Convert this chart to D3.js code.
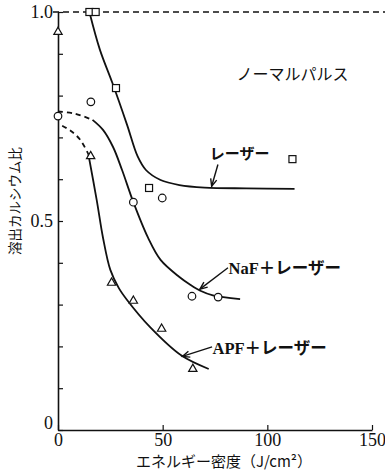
<!DOCTYPE html>
<html>
<head>
<meta charset="utf-8">
<script src="https://cdn.jsdelivr.net/npm/d3@7"></script>
<style>
  body { margin: 0; background: #fff; }
  text { fill: #111; }
</style>
</head>
<body>
<div id="chart"></div>
<script>
// points (energy J/cm2, ratio)
const laserPts = [[15, 1.0], [18, 1.0], [27.7, 0.818], [43.5, 0.579], [112, 0.648]];
const nafPts = [[0, 0.751], [15.7, 0.785], [36, 0.545], [49.8, 0.555], [64, 0.32], [76.5, 0.318]];
const apfPts = [[0, 0.952], [15.6, 0.655], [25.6, 0.352], [36, 0.309], [49.5, 0.242], [64.4, 0.146]];

// fitted curves
const laserCurve = [[15, 1.0], [20, 0.91], [26, 0.83], [33, 0.73], [38, 0.655], [42, 0.622], [49, 0.598], [58, 0.586], [70, 0.58], [90, 0.578], [113, 0.577]];
const nafDash = [[0, 0.762], [8, 0.757], [16.5, 0.742]];
const nafCurve = [[16.5, 0.742], [21.5, 0.718], [26.3, 0.677], [30.6, 0.622], [36, 0.545], [43, 0.46], [49, 0.407], [58, 0.366], [63, 0.348], [68, 0.333], [74, 0.322], [87, 0.313]];
const apfDash = [[2, 0.728], [6, 0.716], [10.5, 0.695], [14.5, 0.66]];
const apfCurve = [[14.5, 0.66], [18.5, 0.55], [21.5, 0.46], [25, 0.383], [29, 0.34], [33, 0.311], [44, 0.246], [59, 0.178], [72, 0.146]];

const xTicks = [0, 50, 100, 150];
const yTicks = [0, 0.1, 0.2, 0.3, 0.4, 0.5, 0.6, 0.7, 0.8, 0.9, 1.0];
const yLabels = {0: "0", 0.5: "0.5", 1: "1.0"};

// labels with arrows: text pos, arrow start, arrow tip
const notes = [
  {text: "レーザー", at: [72.5, 0.64], from: [76.4, 0.64], to: [73.4, 0.583]},
  {text: "NaF＋レーザー", at: [81.5, 0.387], from: [81.2, 0.388], to: [67.8, 0.337]},
  {text: "APF＋レーザー", at: [73.8, 0.196], from: [73.6, 0.199], to: [59.4, 0.176]}
];

const W = 385, H = 473;
const x = d3.scaleLinear().domain([0, 150]).range([58, 372]);
const y = d3.scaleLinear().domain([0, 1]).range([430, 12]);

const svg = d3.select("#chart").append("svg")
  .attr("width", W).attr("height", H);

const serif = "'Liberation Serif', 'Noto Sans CJK JP', serif";
const jp = "'Noto Sans CJK JP', sans-serif";

// top dashed line at 1.0
svg.append("line")
  .attr("x1", x(0) - 5).attr("x2", W)
  .attr("y1", y(1)).attr("y2", y(1))
  .attr("stroke", "#111").attr("stroke-width", 1.5)
  .attr("stroke-dasharray", "6,4");

// axes
const yAxis = svg.append("g")
  .attr("transform", "translate(" + x(0) + ",0)")
  .call(d3.axisLeft(y).tickValues(yTicks).tickSizeInner(-5).tickSizeOuter(0).tickPadding(5)
    .tickFormat(d => yLabels[Math.round(d * 10) / 10] || ""));
yAxis.select(".domain").attr("stroke", "#111").attr("stroke-width", 1.6);
yAxis.selectAll(".tick line").attr("stroke", "#111").attr("stroke-width", 1.2);
yAxis.selectAll(".tick text").attr("font-family", serif).attr("font-size", 18).attr("fill", "#111");
yAxis.selectAll(".tick").filter(d => d === 0).select("text").attr("dy", "-0.1em");

const xAxis = svg.append("g")
  .attr("transform", "translate(0," + y(0) + ")")
  .call(d3.axisBottom(x).tickValues(xTicks).tickSizeInner(-5).tickSizeOuter(0).tickPadding(3));
xAxis.select(".domain").attr("stroke", "#111").attr("stroke-width", 1.6);
xAxis.selectAll(".tick line").attr("stroke", "#111").attr("stroke-width", 1.2);
xAxis.selectAll(".tick text").attr("font-family", serif).attr("font-size", 18).attr("fill", "#111");

// axis titles
svg.append("text")
  .attr("transform", "translate(20," + 201 + ") rotate(-90)")
  .attr("text-anchor", "middle")
  .attr("font-family", jp).attr("font-size", 13.5)
  .text("溶出カルシウム比");

svg.append("text")
  .attr("x", 224).attr("y", 467)
  .attr("text-anchor", "middle")
  .attr("font-family", jp).attr("font-size", 15)
  .text("エネルギー密度（J/cm²）");

// curves
const line = d3.line().x(d => x(d[0])).y(d => y(d[1])).curve(d3.curveCatmullRom.alpha(0.5));
const curves = [
  {d: laserCurve, dash: null},
  {d: nafDash, dash: "5,4"},
  {d: nafCurve, dash: null},
  {d: apfDash, dash: "5,4"},
  {d: apfCurve, dash: null}
];
svg.selectAll(".curve").data(curves).enter().append("path")
  .attr("class", "curve")
  .attr("d", c => line(c.d))
  .attr("fill", "none").attr("stroke", "#111").attr("stroke-width", 1.8)
  .attr("stroke-dasharray", c => c.dash);

// markers
const mk = {stroke: "#111", sw: 1.2};
svg.selectAll(".sq").data(laserPts).enter().append("rect")
  .attr("x", d => x(d[0]) - 3.5).attr("y", d => y(d[1]) - 3.5)
  .attr("width", 7).attr("height", 7)
  .attr("fill", "#fff").attr("stroke", mk.stroke).attr("stroke-width", mk.sw);

svg.selectAll(".ci").data(nafPts).enter().append("circle")
  .attr("cx", d => x(d[0])).attr("cy", d => y(d[1])).attr("r", 3.8)
  .attr("fill", "#fff").attr("stroke", mk.stroke).attr("stroke-width", mk.sw);

const tri = d3.symbol().type(d3.symbolTriangle).size(30);
svg.selectAll(".tr").data(apfPts).enter().append("path")
  .attr("d", tri)
  .attr("transform", d => "translate(" + x(d[0]) + "," + y(d[1]) + ")")
  .attr("fill", "#fff").attr("stroke", mk.stroke).attr("stroke-width", mk.sw);

// annotation
svg.append("text")
  .attr("x", x(112)).attr("y", y(0.837))
  .attr("text-anchor", "middle")
  .attr("font-family", jp).attr("font-size", 16)
  .text("ノーマルパルス");

notes.forEach(n => {
  svg.append("text")
    .attr("x", x(n.at[0])).attr("y", y(n.at[1]))
    .attr("dy", n.text === "レーザー" ? "-0.2em" : "0.35em")
    .attr("font-family", serif).attr("font-size", n.text === "レーザー" ? 15 : 16.5).attr("font-weight", "bold")
    .text(n.text);
  const x1 = x(n.from[0]), y1 = y(n.from[1]) + (n.text === "レーザー" ? 2 : 0);
  const x2 = x(n.to[0]), y2 = y(n.to[1]);
  svg.append("line")
    .attr("x1", x1).attr("y1", y1).attr("x2", x2).attr("y2", y2)
    .attr("stroke", "#111").attr("stroke-width", 1.4);
  const a = Math.atan2(y2 - y1, x2 - x1), L = 8, s = 0.4;
  svg.append("path")
    .attr("d", "M" + (x2 - L * Math.cos(a - s)) + "," + (y2 - L * Math.sin(a - s)) +
      "L" + x2 + "," + y2 +
      "L" + (x2 - L * Math.cos(a + s)) + "," + (y2 - L * Math.sin(a + s)))
    .attr("fill", "none").attr("stroke", "#111").attr("stroke-width", 1.4);
});
</script>
</body>
</html>
